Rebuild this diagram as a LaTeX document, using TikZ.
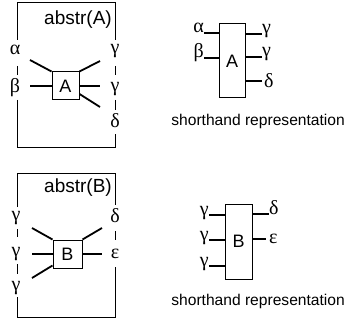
\documentclass[tikz,border=0pt]{standalone}
\usepackage{fontspec}
\setmainfont{Liberation Sans}
\newfontfamily\grk{Liberation Serif}
\begin{document}
\begin{tikzpicture}[x=1pt,y=-1pt,
  frame/.style={line width=1pt,black},
  conn/.style={line width=1.8pt,black},
  sconn/.style={line width=1.3pt,black},
  blk/.style={draw,line width=1pt,inner sep=0pt,font=\fontsize{18}{18}\selectfont},
  gl/.style={inner sep=0pt,font=\grk\fontsize{20}{20}\selectfont},
  txt/.style={inner sep=0pt,font=\fontsize{15.6}{16}\selectfont},
  ttl/.style={inner sep=0pt,font=\fontsize{19}{19}\selectfont}]
\useasboundingbox (0,0) rectangle (347,323);
% ---------- abstr(A) ----------
\draw[frame] (17,40) -- (17,3) -- (115,3) -- (115,40);
\draw[frame] (17,66) -- (17,75);
\draw[frame] (17,100) -- (17,147) -- (115,147) -- (115,134);
\draw[frame] (115,66) -- (115,75);
\draw[frame] (115,100) -- (115,110);
\node[ttl,anchor=east] (tA) at (112,20) {abstr(A)};
\node[gl] (a1) at (15,50) {α};
\node[gl] (b1) at (15,88) {β};
\node[gl] (g1) at (115,51) {γ};
\node[gl] (g2) at (115,89) {γ};
\node[gl] (d1) at (115,121) {δ};
\node[blk,minimum width=27pt,minimum height=28pt] (A) at (65.5,86) {A};
\coordinate (ca1) at (30,60);
\coordinate (cb1) at (30,86);
\coordinate (cg1) at (100,61);
\coordinate (cg2) at (100,86);
\coordinate (cd1) at (100,107);
\draw[conn] (ca1) -- (A.north west);
\draw[conn] (cb1) -- (A.west);
\draw[conn] (A.north east) -- (cg1);
\draw[conn] (A.east) -- (cg2);
\draw[conn] ([yshift=-8pt]A.east) -- (cd1);
% ---------- shorthand A ----------
\node[blk,minimum width=26pt,minimum height=74pt] (As) at (232,61) {A};
\node[gl,anchor=base east] (sa) at (204,33) {α};
\node[gl,anchor=base east] (sb) at (204,58) {β};
\node[gl,anchor=base west] (sg1) at (262,34) {γ};
\node[gl,anchor=base west] (sg2) at (262,57) {γ};
\node[gl,anchor=west] (sd) at (264,81) {δ};
\draw[sconn] (sa.base east) -- (As.west |- sa.base);
\draw[sconn] (sb.base east) -- (As.west |- sb.base);
\draw[sconn] (As.east |- sg1.base) -- (sg1.base west);
\draw[sconn] (As.east |- sg2.base) -- (sg2.base west);
\draw[sconn] (As.east |- sd.west) -- ([xshift=-2pt]sd.west);
\node[txt,anchor=east] (t1) at (345,121) {shorthand representation};
% ---------- abstr(B) ----------
\draw[frame] (17,207) -- (17,173) -- (115,173) -- (115,205);
\draw[frame] (17,229) -- (17,237);
\draw[frame] (17,264) -- (17,274);
\draw[frame] (17,297) -- (17,317) -- (115,317) -- (115,267);
\draw[frame] (115,231) -- (115,240);
\node[ttl,anchor=east] (tB) at (112,188) {abstr(B)};
\node[gl] (bg1) at (16,218) {γ};
\node[gl] (bg2) at (16,254) {γ};
\node[gl] (bg3) at (16,288) {γ};
\node[gl] (bd) at (115,216) {δ};
\node[gl] (be) at (115,254) {ε};
\node[blk,minimum width=29pt,minimum height=28pt] (B) at (67.5,254) {B};
\coordinate (cbg1) at (32,228);
\coordinate (cbg2) at (32,254);
\coordinate (cbg3) at (32,278);
\coordinate (cbd) at (102,228);
\coordinate (cbe) at (102,254);
\draw[conn] (cbg1) -- (B.north west);
\draw[conn] (cbg2) -- (B.west);
\draw[conn] (cbg3) -- ([yshift=3pt]B.south west);
\draw[conn] (B.north east) -- (cbd);
\draw[conn] (B.east) -- (cbe);
% ---------- shorthand B ----------
\node[blk,minimum width=27pt,minimum height=75pt] (Bs) at (238.5,241.5) {B};
\node[gl,anchor=base east] (sbg1) at (209,215) {γ};
\node[gl,anchor=base east] (sbg2) at (209,240) {γ};
\node[gl,anchor=base east] (sbg3) at (209,266) {γ};
\node[gl,anchor=base west] (sbd) at (269,214) {δ};
\node[gl,anchor=west] (sbe) at (269,239) {ε};
\draw[sconn] (sbg1.base east) -- (Bs.west |- sbg1.base);
\draw[sconn] (sbg2.base east) -- (Bs.west |- sbg2.base);
\draw[sconn] (sbg3.base east) -- (Bs.west |- sbg3.base);
\draw[sconn] (Bs.east |- sbd.base) -- (sbd.base west);
\draw[sconn] (Bs.east |- sbe.west) -- ([xshift=-3pt]sbe.west);
\node[txt,anchor=east] (t2) at (345,301) {shorthand representation};
\end{tikzpicture}
\end{document}
